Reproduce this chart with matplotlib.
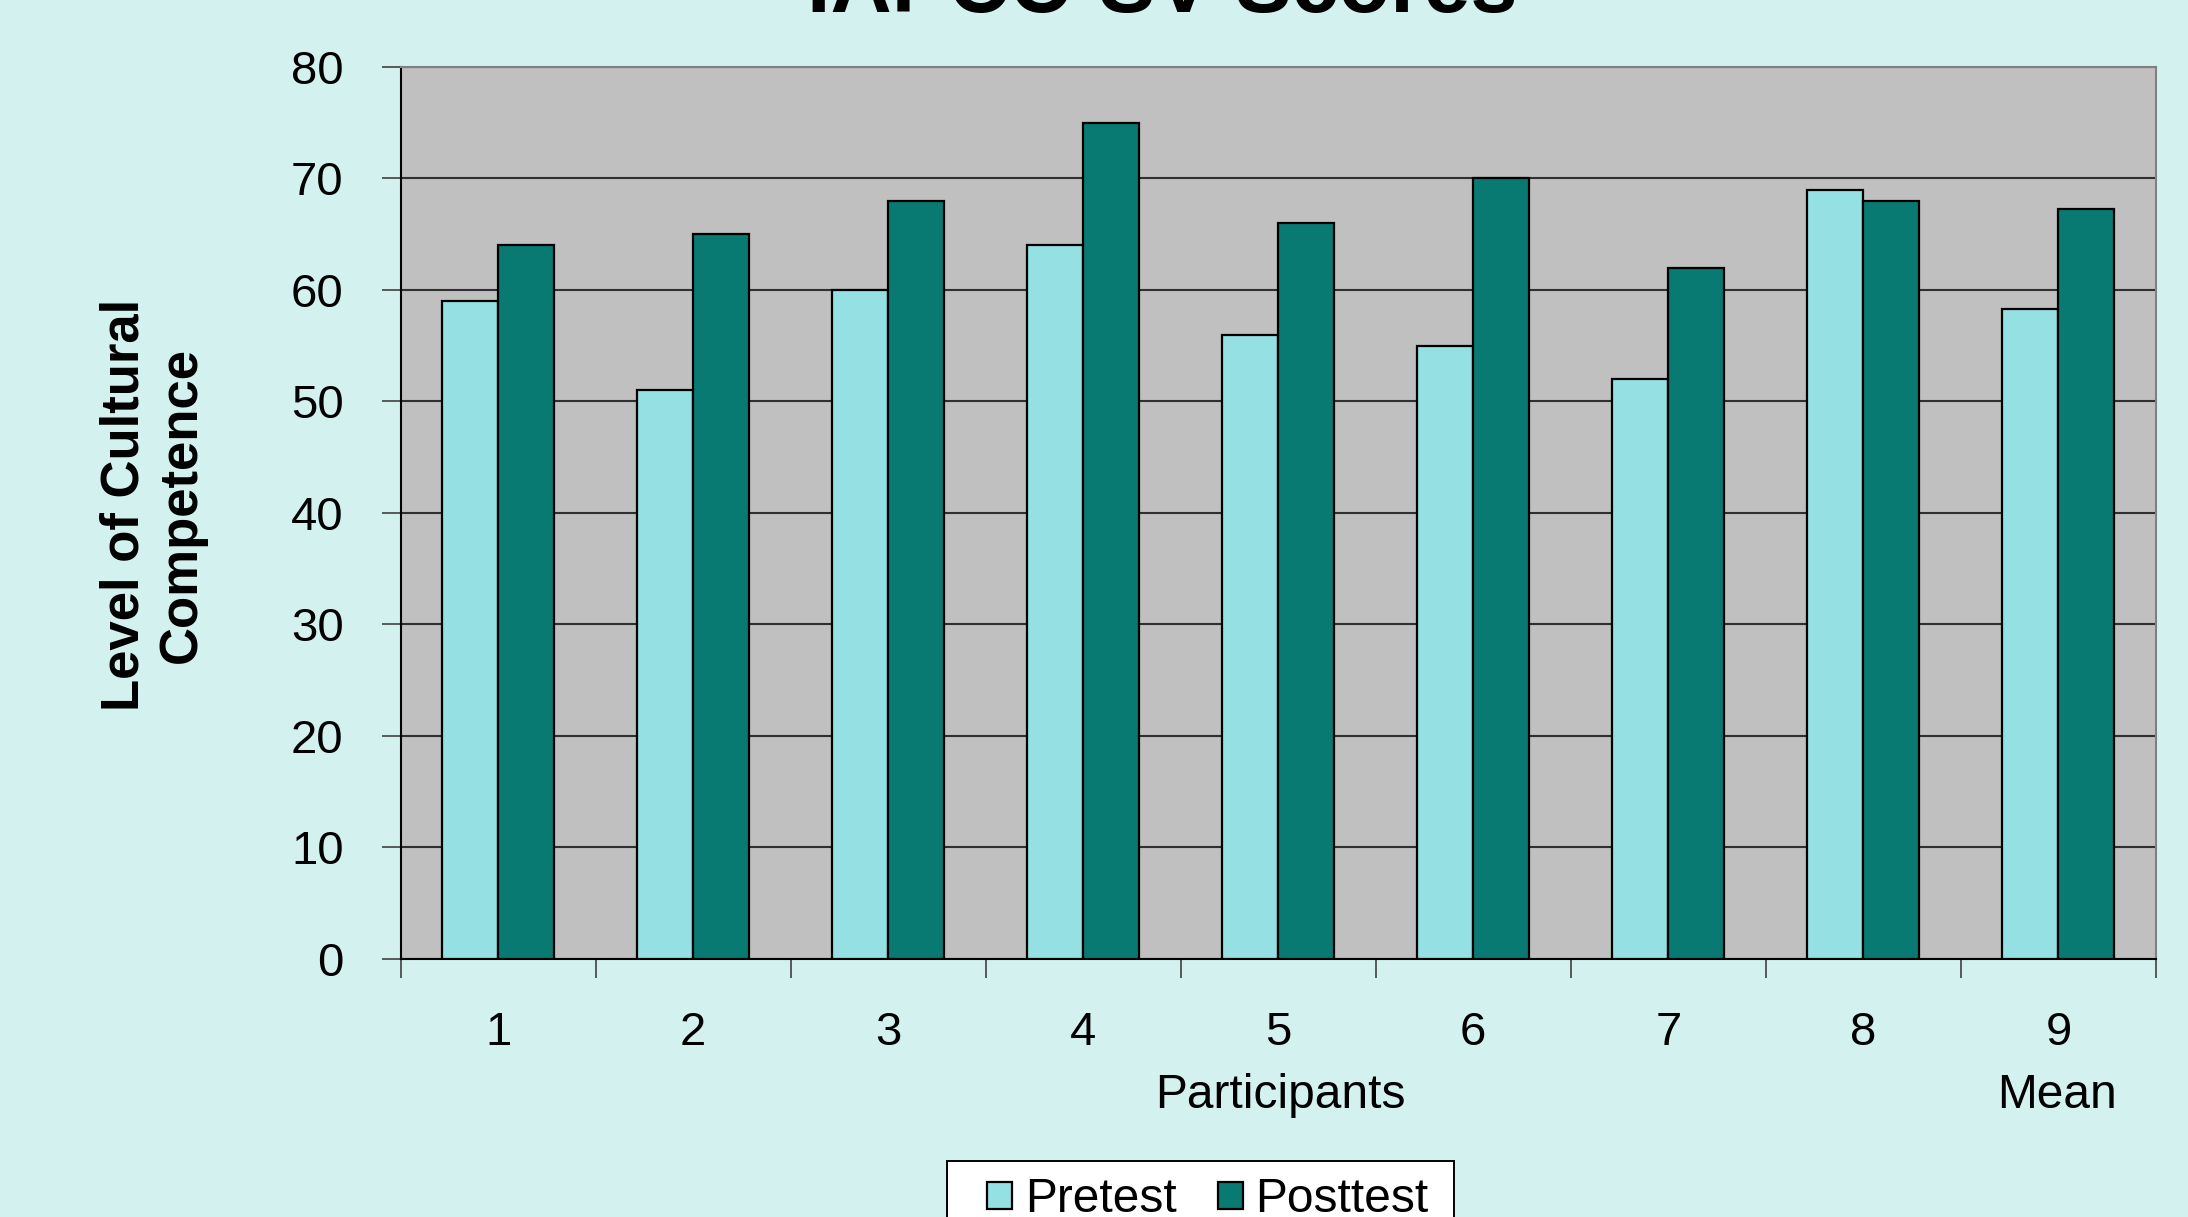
import matplotlib
matplotlib.use("Agg")
import matplotlib.pyplot as plt
from matplotlib.patches import Rectangle
import numpy as np

plt.rcParams['font.family'] = ['Liberation Sans', 'DejaVu Sans']

categories = ["1", "2", "3", "4", "5", "6", "7", "8", "9"]
pretest = [59, 51, 60, 64, 56, 55, 52, 69, 58.25]
posttest = [64, 65, 68, 75, 66, 70, 62, 68, 67.25]
series_names = ["Pretest", "Posttest"]
yticks = [0, 10, 20, 30, 40, 50, 60, 70, 80]

bg = '#D2F1EF'
c_pre = '#94E0E2'
c_post = '#087A72'

fig = plt.figure(figsize=(21.88, 12.17), dpi=100, facecolor=bg)
ax = fig.add_axes([400.5/2188, 1-958.7/1217, (2156-400.5)/2188, (958.7-67)/1217])
ax.set_facecolor('#C0C0C0')

x = np.arange(1, len(categories)+1)
w = 0.287
ax.bar(x - w/2, pretest, w, color=c_pre, edgecolor='black', linewidth=1.6, label=series_names[0], zorder=3)
ax.bar(x + w/2, posttest, w, color=c_post, edgecolor='black', linewidth=1.6, label=series_names[1], zorder=3)

ax.set_xlim(0.5, len(categories)+0.5)
ax.set_ylim(0, 80)
ax.set_yticks(yticks)
ax.set_yticklabels([str(v) for v in yticks], fontsize=34)
ax.tick_params(axis='y', direction='out', length=14, width=1.2, color='#404040', pad=27)
ax.set_xticks(x)
ax.set_xticklabels(categories, fontsize=34)
ax.tick_params(axis='x', which='major', length=0, pad=38)
ax.set_xticks(np.arange(0.5, len(categories)+1, 1), minor=True)
ax.tick_params(axis='x', which='minor', direction='out', length=14, width=1.2, color='#404040')

ax.yaxis.grid(True, color='#303030', linewidth=1.5, zorder=1)
ax.set_axisbelow(True)

for s in ['top', 'right']:
    ax.spines[s].set_color('#808080')
    ax.spines[s].set_linewidth(1.5)
for s in ['left', 'bottom']:
    ax.spines[s].set_color('black')
    ax.spines[s].set_linewidth(1.5)

fig.text(1280/2188, 1-1095/1217, "Participants", fontsize=34.5, ha='center', va='center')
fig.text(2057/2188, 1-1095/1217, "Mean", fontsize=34.5, ha='center', va='center')
fig.text(153/2188, 1-505/1217, "Level of Cultural\nCompetence", fontsize=38, fontweight='bold',
         rotation=90, ha='center', va='center', linespacing=1.2)
fig.text(1162/2188, 1-12/1217, "IAPCC-SV Scores", fontsize=61, fontweight='bold',
         ha='center', va='baseline')

# legend box
fig.patches.append(Rectangle((947/2188, -0.05), (1454-947)/2188, 0.05 + 1 - 1161/1217,
                             transform=fig.transFigure, facecolor='white', edgecolor='black',
                             linewidth=1.4, zorder=1))
leg = fig.legend(loc='center', bbox_to_anchor=(1208/2188, 1-1200/1217), ncol=2,
                 fontsize=34.5, frameon=False,
                 handlelength=0.52, handleheight=0.52, handletextpad=0.26, columnspacing=0.87,
                 borderpad=0.0)
leg.set_zorder(5)

fig.savefig('out.png', dpi=100, facecolor=bg)
